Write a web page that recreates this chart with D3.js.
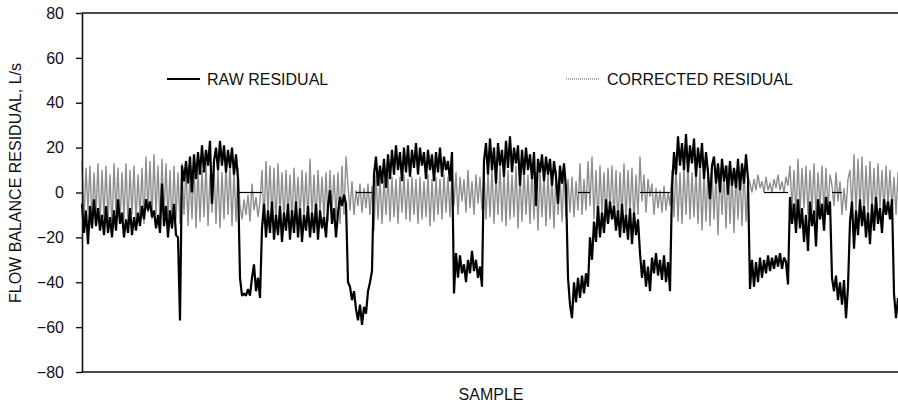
<!DOCTYPE html>
<html>
<head>
<meta charset="utf-8">
<script src="https://cdn.jsdelivr.net/npm/d3@7"></script>
<style>
  html, body { margin: 0; padding: 0; background: #fff; }
  svg { display: block; font-family: "Liberation Sans", Arial, Helvetica, sans-serif; }
</style>
</head>
<body>
<svg id="chart" width="898" height="407"></svg>
<script>
// ---- data ----
const yTicks = [-80, -60, -40, -20, 0, 20, 40, 60, 80];
const seriesNames = ["RAW RESIDUAL", "CORRECTED RESIDUAL"];
const xLabel = "SAMPLE";
const yLabel = "FLOW BALANCE RESIDUAL, L/s";

const rawResidual = [
  -5,-18,-8,-23,-6,-16,-3,-15,-7,-17,
  -10,-19,-6,-18,-11,-20,-8,-17,-3,-14,
  -9,-20,-12,-18,-7,-19,-11,-17,-9,-15,
  -6,-12,-3,-8,-4,-11,-8,-16,-10,-18,
  4,-15,-6,-20,-8,-16,-5,-19,-20,-57,
  12,
  5,14,4,16,0,17,6,18,8,21,
  9,19,12,23,-5,14,20,10,23,12,
  21,9,19,11,20,8,17,6,
  -38,-46,-45,-46,-43,-46,-38,-32,-44,-38,-47,-16,
  -5,-20,-8,-18,-4,-21,-10,-19,-6,-22,
  -9,-17,-5,-21,-8,-18,-4,-20,-7,-22,
  -10,-17,-6,-20,-9,-18,-5,-21,-8,-16,
  -11,-20,-6,1,-14,-7,-20,-9,-2,-6,
  -1,-5,
  -40,-42,-48,-44,-52,-57,-50,-59,-51,-54,-44,-40,-35,
  8,16,3,12,4,15,2,17,6,19,
  8,21,10,18,5,20,9,21,7,19,
  11,22,8,20,12,18,6,19,10,17,
  5,18,9,20,7,16,10,14,5,18,
  -45,-27,-38,-28,-36,-32,-40,-30,-36,-26,-35,-30,-38,-33,-42,
  14,22,8,24,10,20,4,22,12,19,
  7,23,11,25,9,20,13,21,3,19,
  8,20,10,17,6,18,-6,15,9,17,
  5,16,8,15,3,14,7,-5,12,4,
  13,2,
  -38,-50,-56,-40,-49,-38,-47,-37,-45,-36,-42,-20,
  -30,-13,-22,-6,-20,-9,-18,-3,-14,-4,
  -12,-6,-17,-8,-20,-5,-18,-10,-21,-7,
  -23,-9,-19,-12,
  -27,-38,-30,-42,-33,-44,-29,-36,-27,-37,-30,-39,-28,-40,-31,-44,
  2,18,8,25,12,22,10,26,9,21,
  13,24,7,20,11,22,6,18,9,-3,
  12,16,4,13,0,15,5,12,-1,14,
  3,11,2,15,1,13,4,17,6,
  -43,-30,-42,-31,-40,-29,-38,-30,-36,-28,
  -35,-29,-34,-28,-33,-27,-34,-29,-31,-41,
  -2,-14,-5,-18,-3,-16,-7,-22,-10,-26,
  -4,-15,-8,-24,-3,-12,-5,-17,-2,-10,
  -4,
  -38,-44,-37,-48,-40,-50,-39,-56,-42,
  -13,-4,-25,-8,-19,-3,-15,-6,-20,-9,
  -23,-5,-17,-2,-14,-7,-18,-3,-10,-4,
  -12,-3,-45,-56,-47
];

const correctedResidual = [
  14,-12,11,-8,12,-14,9,-10,13,-15,
  10,-11,12,-13,8,-16,13,-9,11,-14,
  9,-12,13,-15,10,-10,12,-13,8,-11,
  11,-14,16,-9,14,-12,17,-10,12,-15,
  15,-11,13,-13,10,-16,12,-12,9,-14,
  13,-10,12,-15,9,-12,14,-16,11,-13,
  10,-11,13,-15,8,-9,12,-14,11,-16,
  9,-12,13,-10,12,-15,10,-13,11,
  -6,-12,-3,-10,-1,-13,4,-8,-2,-11,-4,10,
  -14,14,-9,12,-12,11,-15,13,-10,9,
  -13,10,-11,8,-14,11,-9,7,-12,10,
  -10,9,-13,15,-11,8,-14,10,-9,7,
  -12,9,-13,10,-8,8,-11,9,-14,12,-10,16,
  3,-8,5,-10,1,-6,4,-9,2,-7,4,-10,3,
  -17,8,-12,7,-14,6,-10,8,-13,7,
  -11,6,-14,7,-9,8,-12,6,-13,7,
  -10,6,-14,7,-12,5,-11,8,-15,6,
  -13,7,-10,6,-12,8,-9,7,-11,8,
  -6,9,-10,7,-4,6,-9,10,-7,5,-10,8,-5,7,-8,
  10,-12,9,-11,11,-14,8,-10,12,-13,
  9,-15,10,-12,8,-11,12,-16,9,-13,
  10,-10,8,-14,11,-12,9,-17,10,-11,
  8,-15,9,-12,7,-16,10,-10,8,-13,9,-11,
  6,-9,7,-11,5,-8,13,-10,6,-8,14,-6,
  16,-12,10,-14,12,-10,9,-13,11,-8,
  12,-12,10,-15,9,-11,13,-13,10,-9,11,-14,8,-10,
  16,-4,8,-9,6,-2,4,-10,2,-7,1,-9,3,-8,0,-6,
  10,-11,12,-13,9,-14,11,-10,13,-12,9,
  -11,10,-14,12,-17,9,-13,11,-15,10,
  -12,8,-19,11,-10,9,-16,12,-14,8,
  -18,10,-12,9,-15,11,-13,7,
  4,0,6,1,8,2,5,0,7,1,4,0,6,2,8,1,5,0,7,3,
  12,-8,10,-11,15,-9,11,-7,12,-10,
  10,-8,13,-11,9,-7,12,-10,11,-9,8,
  3,-6,9,-4,5,-10,2,-8,6,
  10,-8,17,-10,15,-7,16,-11,12,-9,
  14,-8,11,-10,13,-7,10,-9,12,-6,
  10,-8,7,-10,9
];

// sample-index ranges where the raw trace shows a flat zero baseline
const zeroSegments = [[78, 90], [137, 145], [248, 254], [279, 294], [341, 353], [375, 380]];

// ---- layout ----
const plot = { left: 82, right: 898, top: 13, bottom: 372 };

const svg = d3.select("#chart");

const n = Math.max(rawResidual.length, correctedResidual.length);
const x = d3.scaleLinear().domain([0, n - 1]).range([plot.left, plot.right]);
const y = d3.scaleLinear().domain([-80, 80]).range([plot.bottom, plot.top]);

const line = d3.line().x((d, i) => x(i)).y(d => y(d));

// corrected residual (grey)
svg.append("path")
  .datum(correctedResidual)
  .attr("d", line)
  .attr("fill", "none")
  .attr("stroke", "#8e8e8e")
  .attr("stroke-width", 1.4);

// zero baseline pieces
svg.append("g").selectAll("line")
  .data(zeroSegments)
  .join("line")
  .attr("x1", d => x(d[0])).attr("x2", d => x(d[1]))
  .attr("y1", y(0)).attr("y2", y(0))
  .attr("stroke", "#000").attr("stroke-width", 1.2);

// raw residual (black)
svg.append("path")
  .datum(rawResidual)
  .attr("d", line)
  .attr("fill", "none")
  .attr("stroke", "#000")
  .attr("stroke-width", 2.2)
  .attr("stroke-linejoin", "bevel");

// frame lines top & bottom
svg.append("line")
  .attr("x1", plot.left).attr("x2", plot.right)
  .attr("y1", y(80)).attr("y2", y(80))
  .attr("stroke", "#111").attr("stroke-width", 1.6);
svg.append("line")
  .attr("x1", plot.left).attr("x2", plot.right)
  .attr("y1", y(-80)).attr("y2", y(-80))
  .attr("stroke", "#111").attr("stroke-width", 1.6);

// y axis
const yAxis = d3.axisLeft(y)
  .tickValues(yTicks)
  .tickSizeInner(6)
  .tickSizeOuter(0)
  .tickPadding(12)
  .tickFormat(d3.format("d"));

const gy = svg.append("g")
  .attr("transform", `translate(${plot.left},0)`)
  .call(yAxis);
gy.select(".domain").attr("stroke", "#111").attr("stroke-width", 1.6);
gy.selectAll(".tick line").attr("stroke", "#111").attr("stroke-width", 1.4);
gy.selectAll(".tick text")
  .attr("fill", "#111")
  .style("font-size", "16px")
  .style("font-family", "'Liberation Sans', Arial, sans-serif");

// axis titles
svg.append("text")
  .attr("transform", `translate(21,183) rotate(-90)`)
  .attr("text-anchor", "middle")
  .attr("fill", "#111")
  .style("font-size", "16px")
  .text(yLabel);

svg.append("text")
  .attr("x", 491).attr("y", 400)
  .attr("text-anchor", "middle")
  .attr("fill", "#111")
  .style("font-size", "16px")
  .text(xLabel);

// legend
const legend = svg.append("g");
legend.append("line")
  .attr("x1", 167).attr("x2", 200).attr("y1", 79).attr("y2", 79)
  .attr("stroke", "#000").attr("stroke-width", 2);
legend.append("text")
  .attr("x", 207).attr("y", 85)
  .attr("fill", "#111")
  .style("font-size", "16px")
  .text(seriesNames[0]);
legend.append("line")
  .attr("x1", 566).attr("x2", 600).attr("y1", 79).attr("y2", 79)
  .attr("stroke", "#8e8e8e").attr("stroke-width", 1.4)
  .attr("stroke-dasharray", "1,1");
legend.append("text")
  .attr("x", 607).attr("y", 85)
  .attr("fill", "#111")
  .style("font-size", "16px")
  .text(seriesNames[1]);
</script>
</body>
</html>
